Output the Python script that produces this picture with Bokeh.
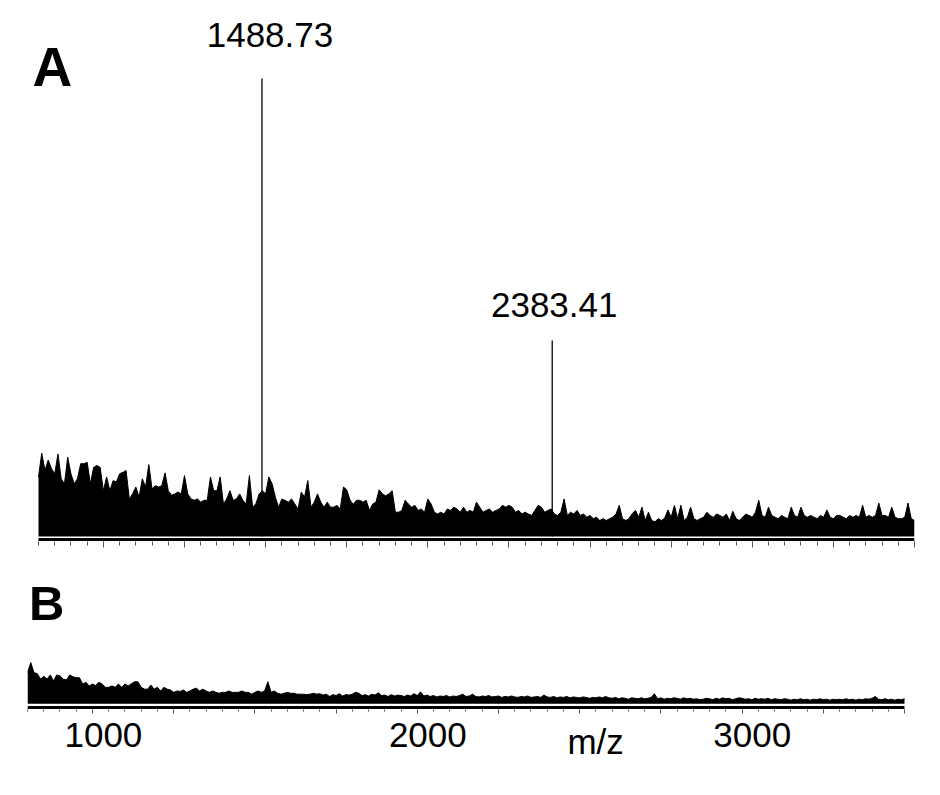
from bokeh.plotting import figure
from bokeh.layouts import column
from bokeh.models import Range1d, Label, ColumnDataSource, SingleIntervalTicker
from bokeh.embed import file_html
from bokeh.resources import INLINE
from bokeh.core.properties import value

# ---------------- data ----------------
MZ_START = 800
MZ_END = 3500
MZ_STEP = 10

# panel A noise (relative intensity, % of base peak), one value every 10 m/z from 800
A_NOISE = [
    13.0, 18.2, 14.4, 16.7, 14.8, 13.7, 18.0, 12.6, 11.5, 17.3,
    13.7, 11.5, 12.6, 15.9, 15.9, 16.2, 11.5, 15.1, 15.5, 15.1,
    10.0, 13.0, 10.0, 12.2, 11.9, 13.7, 14.0, 14.4, 8.2, 9.3,
    10.8, 8.6, 12.6, 10.8, 15.7, 10.4, 11.1, 10.8, 11.1, 13.9,
    10.0, 9.0, 9.3, 9.7, 9.3, 13.3, 9.3, 8.2, 7.9, 8.2,
    7.5, 7.9, 7.9, 13.0, 10.0, 10.0, 13.0, 7.1, 8.2, 10.0,
    7.9, 8.2, 9.3, 7.9, 7.1, 13.3, 6.4, 7.1, 9.3, 10.0,
    9.3, 13.0, 11.5, 8.6, 6.4, 8.2, 7.9, 7.5, 8.2, 7.1,
    6.0, 9.7, 8.6, 12.2, 6.4, 7.5, 9.3, 7.5, 6.4, 7.5,
    6.4, 6.4, 6.8, 6.0, 10.8, 10.2, 8.0, 7.0, 7.9, 7.9,
    7.5, 7.9, 5.7, 7.1, 7.5, 10.2, 9.3, 8.9, 9.3, 10.0,
    5.3, 5.3, 5.7, 7.9, 7.1, 6.4, 6.8, 5.7, 6.0, 5.3,
    8.2, 7.1, 5.3, 4.9, 5.3, 4.9, 6.0, 5.7, 6.4, 6.0,
    5.3, 6.4, 5.3, 5.7, 5.3, 7.5, 6.4, 5.3, 5.7, 6.0,
    5.3, 5.7, 6.0, 6.8, 6.4, 6.8, 6.4, 5.3, 5.7, 4.9,
    5.3, 4.9, 4.6, 5.7, 6.8, 6.4, 5.3, 5.7, 6.0, 4.9,
    4.6, 5.3, 8.2, 4.6, 5.3, 4.9, 5.7, 4.6, 4.9, 4.2,
    4.6, 3.9, 4.2, 3.5, 3.9, 3.5, 3.9, 4.2, 4.9, 6.8,
    3.9, 3.5, 3.9, 5.0, 5.7, 4.2, 6.4, 3.5, 5.3, 3.5,
    3.2, 3.9, 3.5, 4.0, 5.8, 4.2, 6.8, 3.9, 6.8, 3.5,
    4.2, 6.4, 3.9, 3.5, 3.9, 4.2, 5.3, 4.6, 4.2, 4.9,
    4.6, 4.2, 4.9, 3.5, 5.5, 3.9, 3.5, 4.2, 4.9, 4.6,
    4.2, 5.3, 7.9, 4.6, 4.2, 6.4, 4.6, 4.2, 3.9, 4.6,
    4.2, 3.9, 6.4, 4.6, 4.2, 6.4, 4.6, 4.2, 4.6, 4.2,
    3.9, 4.6, 4.2, 5.8, 4.2, 3.9, 4.6, 4.6, 4.2, 3.9,
    4.6, 4.2, 4.6, 4.2, 6.8, 4.2, 4.6, 4.2, 4.6, 7.3,
    4.6, 4.6, 4.2, 6.4, 4.2, 3.9, 3.9, 4.2, 7.3, 3.9,
    3.5,
]

# panel B noise (same intensity scale), one value every 10 m/z from 800
B_NOISE = [
    6.8, 9.0, 6.8, 6.6, 5.4, 6.0, 5.4, 6.3, 5.0, 6.3,
    6.1, 5.4, 5.2, 6.3, 5.9, 5.7, 5.7, 4.3, 4.7, 3.9,
    4.3, 4.0, 4.7, 4.3, 3.6, 3.6, 3.9, 3.6, 4.3, 3.6,
    4.3, 3.9, 4.4, 4.8, 4.8, 3.6, 3.2, 3.2, 4.1, 3.2,
    3.6, 2.8, 3.6, 3.2, 3.0, 2.5, 2.8, 2.7, 3.0, 2.5,
    2.8, 3.2, 3.4, 2.8, 3.2, 2.8, 2.5, 2.8, 2.5, 2.3,
    2.5, 2.5, 2.8, 2.5, 2.5, 2.5, 2.8, 2.5, 2.5, 2.1,
    2.5, 2.8, 2.5, 2.8, 4.8, 2.5, 2.8, 2.3, 2.1, 2.3,
    2.5, 2.3, 2.3, 2.1, 2.1, 2.1, 2.0, 2.1, 2.3, 2.1,
    2.2, 1.9, 2.1, 1.6, 2.0, 1.8, 2.2, 1.7, 2.0, 1.9,
    2.1, 2.5, 2.3, 1.8, 2.0, 1.7, 2.1, 1.9, 2.4, 1.8,
    1.9, 1.6, 2.0, 1.7, 1.9, 1.8, 1.6, 1.9, 1.7, 2.2,
    1.8, 2.6, 1.7, 1.9, 1.6, 1.8, 1.5, 1.7, 1.6, 1.8,
    1.5, 1.7, 1.6, 1.8, 2.1, 1.6, 1.7, 2.1, 1.6, 1.5,
    1.7, 1.6, 1.8, 1.5, 1.6, 1.7, 1.4, 1.6, 1.5, 1.7,
    1.5, 1.4, 1.6, 1.5, 1.7, 1.4, 1.5, 1.6, 1.4, 1.9,
    1.5, 1.4, 1.6, 1.3, 1.5, 1.4, 1.6, 1.3, 1.5, 1.4,
    1.3, 1.5, 1.4, 1.2, 1.4, 1.3, 1.5, 1.3, 1.6, 1.3,
    1.2, 1.4, 1.1, 1.3, 1.2, 1.0, 1.3, 1.2, 1.1, 1.3,
    1.1, 1.2, 1.4, 2.2, 1.1, 1.3, 1.0, 1.2, 1.1, 1.3,
    1.2, 1.0, 1.3, 1.1, 1.2, 1.0, 1.1, 0.9, 1.0, 1.2,
    1.1, 0.9, 1.2, 1.0, 1.3, 1.1, 1.2, 0.9, 1.1, 1.3,
    1.2, 1.0, 1.1, 0.9, 1.2, 1.0, 1.1, 1.0, 1.2, 0.9,
    1.1, 1.0, 0.9, 1.1, 1.0, 0.8, 1.0, 0.9, 1.1, 0.9,
    1.0, 0.8, 1.0, 0.9, 1.1, 0.9, 1.0, 0.8, 1.0, 0.9,
    1.0, 0.9, 1.1, 0.9, 1.0, 0.8, 1.0, 0.9, 1.1, 1.0,
    1.2, 1.6, 1.0, 0.9, 1.1, 0.9, 1.0, 0.8, 1.0, 0.9,
    1.1,
]

PEAK_MZ = [1488.73, 2383.41]
PEAK_INT = [100.0, 42.8]
PEAK_LABELS = ["1488.73", "2383.41"]

TICK_LABEL_MZ = [1000, 2000, 3000]
TICK_LABELS = ["1000", "2000", "3000"]
PANEL_A = "A"
PANEL_B = "B"
AXIS_TITLE = "m/z"

# ---------------- styles / layout ----------------
FONT = "Liberation Sans"
FIG_W = 930
BORDER_L, BORDER_R = 27, 16                 # common frame: x 27 .. 914
A_XR = (766.1, MZ_END)                      # 800 sits 11 px inside frame A
B_XR = (MZ_START, 3530.8)                   # spectrum B ends 10 px before frame end
A_H, A_BORDER_B = 569, 28                   # frame A: y 0 .. 541
B_H, B_BORDER_B = 145, 5                    # frame B: y 569 .. 709
C_H = 795 - 569 - 145                       # label strip: y 714 .. 795
A_YR = (-1.092, 117.03)
B_YR = (-1.245, 29.32)
A_AXIS_Y = -0.655                           # axis bar centre (data units)
B_AXIS_Y = -0.808
LABEL_DX = [8, 2]
LABEL_DY = [-43, -35]
TEXT_Y_TICKS = 734      # label strip coordinates (page px)
TEXT_Y_TITLE = 741
MZ_TITLE_X = 2517

mz_a = [MZ_START + MZ_STEP * i for i in range(len(A_NOISE))]
mz_b = [MZ_START + MZ_STEP * i for i in range(len(B_NOISE))]


def style_axis(p, tick_in, major_out, minor_out):
    ax = p.xaxis[0]
    ax.ticker = SingleIntervalTicker(interval=250, num_minor_ticks=5)
    ax.axis_line_color = None
    ax.major_tick_in = tick_in
    ax.minor_tick_in = tick_in
    ax.major_tick_out = major_out
    ax.minor_tick_out = minor_out
    ax.major_tick_line_color = "#555555"
    ax.minor_tick_line_color = "#555555"
    ax.major_tick_line_width = 1
    ax.minor_tick_line_width = 1
    ax.major_label_overrides = {t: "" for t in range(750, 3751, 250)}
    ax.major_label_text_font_size = "0px"
    ax.major_label_standoff = 0


def make_fig(h, border_b, xr, yr, axis=True):
    p = figure(width=FIG_W, height=h, x_range=Range1d(*xr), y_range=Range1d(*yr),
               output_backend="svg", toolbar_location=None,
               x_axis_location="below" if axis else None, y_axis_location=None,
               min_border_left=BORDER_L, min_border_right=BORDER_R,
               min_border_top=0, min_border_bottom=border_b)
    p.outline_line_color = None
    p.grid.visible = False
    p.background_fill_color = "white"
    p.border_fill_color = "white"
    return p


def draw_noise(p, mz, vals, axis_y):
    p.varea(x=mz, y1=[0] * len(mz), y2=vals, fill_color="black")
    p.line(x=mz, y=vals, line_color="black", line_width=1)
    p.segment(x0=[MZ_START], y0=[axis_y], x1=[MZ_END], y1=[axis_y],
              line_color="black", line_width=3)


# ---------------- panel A ----------------
pA = make_fig(A_H, A_BORDER_B, A_XR, A_YR)
style_axis(pA, 0, 6, 4)
draw_noise(pA, mz_a, A_NOISE, A_AXIS_Y)
pA.segment(x0=PEAK_MZ, y0=[0] * len(PEAK_MZ), x1=PEAK_MZ, y1=PEAK_INT,
           line_color="black", line_width=1.3)
pk = ColumnDataSource(dict(x=PEAK_MZ, y=PEAK_INT, t=PEAK_LABELS, dx=LABEL_DX, dy=LABEL_DY))
pA.text(x="x", y="y", text="t", source=pk, x_offset="dx", y_offset="dy",
        text_font=value(FONT), text_font_size=value("35px"), text_color="black",
        text_align="center", text_baseline="alphabetic")
pA.add_layout(Label(x=781.5, y=102.6, text=PANEL_A, text_font=FONT,
                    text_font_size="55px", text_font_style="bold",
                    text_align="left", text_baseline="alphabetic", text_color="black"))

# ---------------- panel B ----------------
pB = make_fig(B_H, B_BORDER_B, B_XR, B_YR)
style_axis(pB, 0, 4, 2)
draw_noise(pB, mz_b, B_NOISE, B_AXIS_Y)
pB.add_layout(Label(x=804.6, y=22.1, text=PANEL_B, text_font=FONT,
                    text_font_size="49px", text_font_style="bold",
                    text_align="left", text_baseline="alphabetic", text_color="black"))

# ---------------- tick labels / axis title strip ----------------
pC = make_fig(C_H, 0, A_XR, (795, 795 - C_H), axis=False)
pC.text(x=TICK_LABEL_MZ, y=[TEXT_Y_TICKS] * len(TICK_LABEL_MZ), text=TICK_LABELS,
        text_font=value(FONT), text_font_size=value("35px"), text_color="black",
        text_align="center", text_baseline="alphabetic")
pC.text(x=[MZ_TITLE_X], y=[TEXT_Y_TITLE], text=[AXIS_TITLE],
        text_font=value(FONT), text_font_size=value("35px"), text_color="black",
        text_align="center", text_baseline="alphabetic")

layout = column(pA, pB, pC, spacing=0)
open("out.html", "w").write(file_html(layout, INLINE))
